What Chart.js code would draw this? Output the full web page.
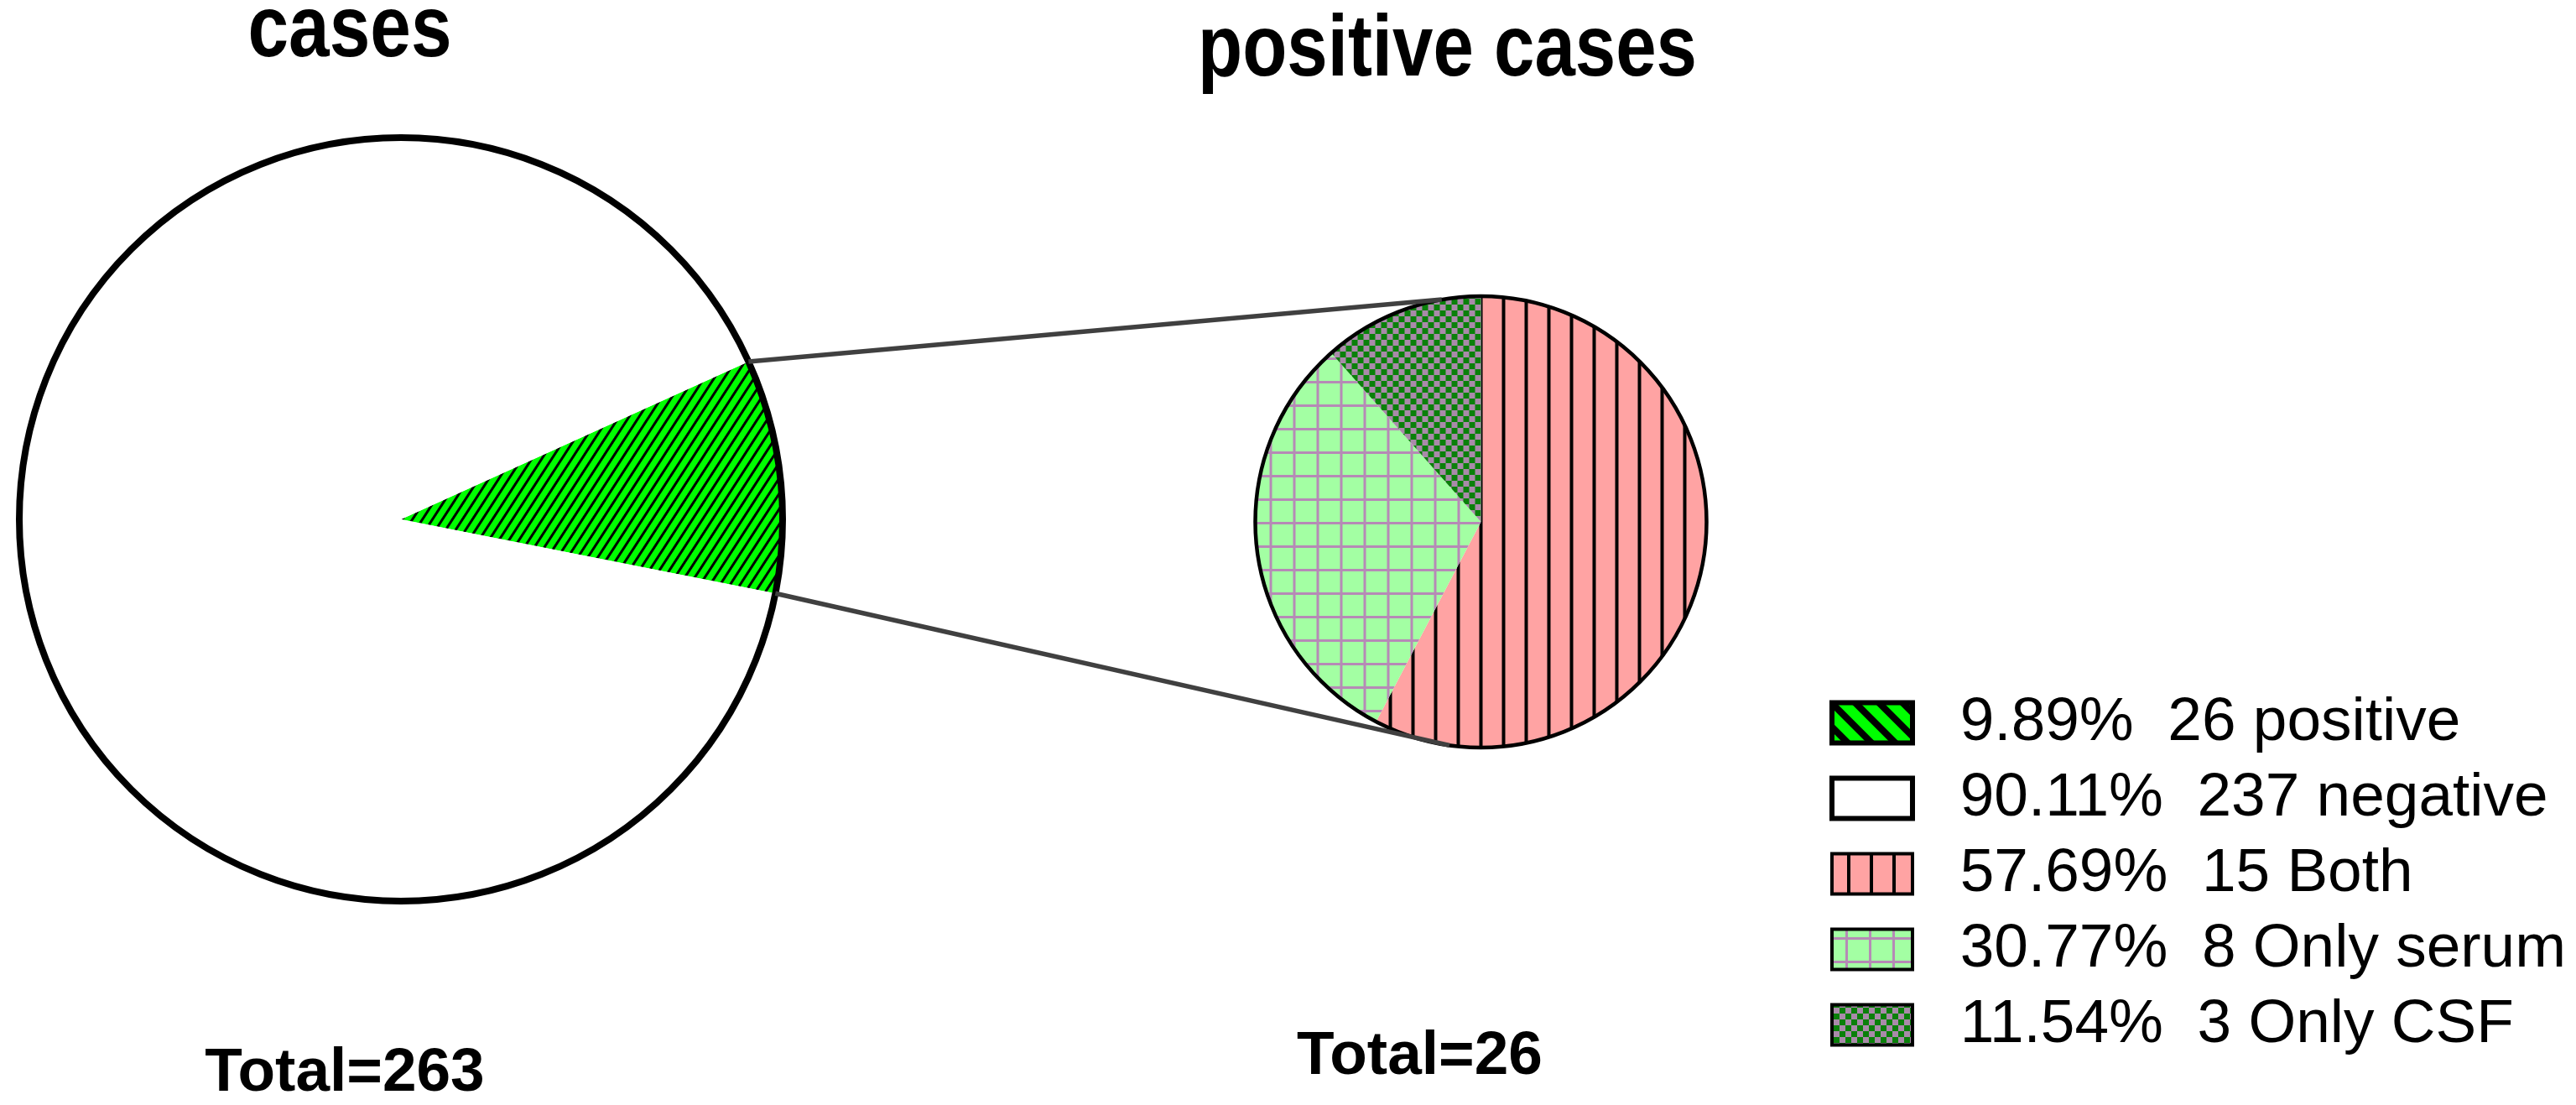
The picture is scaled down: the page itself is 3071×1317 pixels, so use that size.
<!DOCTYPE html>
<html lang="en">
<head>
<meta charset="UTF-8">
<title>Positive cases pie of pie</title>
<script src="https://cdn.jsdelivr.net/npm/chart.js"></script>
<style>
  html, body { margin: 0; padding: 0; background: #ffffff; overflow: hidden; width: 3071px; height: 1317px; }
  canvas { position: absolute; }
  #totalChart { left: 0; top: 0; }
  #positiveChart { left: 800px; top: -31px; }
</style>
</head>
<body>
<canvas id="totalChart" width="956" height="1317"></canvas>
<canvas id="positiveChart" width="2260" height="1348"></canvas>
<script>
// all tested cases
const totalLabels = ['positive', 'negative'];
const totalCounts = [26, 237];
// split of the positive cases
const positiveLabels = ['Both', 'Only serum', 'Only CSF'];
const positiveCounts = [15, 8, 3];
const pieTitles = ['cases', 'positive cases'];

const sum = arr => arr.reduce((a, b) => a + b, 0);
const legendText = (n, arr, name) => ' ' + (n / sum(arr) * 100).toFixed(2) + '%  ' + n + ' ' + name;

// fill patterns
function makePattern(w, h, paint) {
    const c = document.createElement('canvas');
    c.width = w;
    c.height = h;
    const g = c.getContext('2d');
    paint(g, w, h);
    return g.createPattern(c, 'repeat');
}

const stripeSlice = makePattern(10, 10, (g, w, h) => {
    g.fillStyle = '#00ff00'; g.fillRect(0, 0, w, h);
    g.fillStyle = '#000000'; g.fillRect(0, 0, 3, h);
});
stripeSlice._rot = 33;

const stripeKey = makePattern(20, 20, (g, w, h) => {
    g.fillStyle = '#00ff00'; g.fillRect(0, 0, w, h);
    g.fillStyle = '#000000'; g.fillRect(0, 0, 8, h);
});
stripeKey.setTransform(new DOMMatrix().rotate(-45));

const bothPat = makePattern(27, 27, (g, w, h) => {
    g.fillStyle = '#ffa3a3'; g.fillRect(0, 0, w, h);
    g.fillStyle = '#000000'; g.fillRect(0, 0, 2, h); g.fillRect(w - 2, 0, 2, h);
});

const serumPat = makePattern(28, 28, (g, w, h) => {
    g.fillStyle = '#a3ffa3'; g.fillRect(0, 0, w, h);
    g.fillStyle = '#b68ab6'; g.fillRect(0, 0, 3, h); g.fillRect(0, 0, w, 3);
});

const csfPat = makePattern(14, 14, (g, w, h) => {
    g.fillStyle = '#0a800a'; g.fillRect(0, 0, w, h);
    g.fillStyle = '#a98aa9'; g.fillRect(0, 0, 7, 7); g.fillRect(7, 7, 7, 7);
});

// keep the slice patterns anchored on the pie centre
const anchorPatterns = {
    id: 'anchorPatterns',
    beforeDatasetsDraw(chart) {
        const arc = chart.getDatasetMeta(0).data[0];
        chart.data.datasets[0].backgroundColor.forEach(p => {
            if (p instanceof CanvasPattern) {
                p.setTransform(new DOMMatrix().translate(arc.x, arc.y).rotate(p._rot || 0));
            }
        });
    }
};

// black circle around a pie
const outline = {
    id: 'outline',
    afterDatasetsDraw(chart, args, opts) {
        const arc = chart.getDatasetMeta(0).data[0];
        const ctx = chart.ctx;
        ctx.save();
        ctx.lineWidth = opts.width;
        ctx.strokeStyle = opts.color;
        ctx.beginPath();
        ctx.arc(arc.x, arc.y, arc.outerRadius, 0, Math.PI * 2);
        ctx.stroke();
        ctx.restore();
    }
};

// heading above and total below each pie
const captions = {
    id: 'captions',
    afterDraw(chart, args, opts) {
        const arc = chart.getDatasetMeta(0).data[0];
        const ctx = chart.ctx;
        ctx.save();
        ctx.fillStyle = '#000000';
        ctx.textAlign = 'center';
        ctx.textBaseline = 'alphabetic';
        opts.items.forEach(it => {
            ctx.font = it.font;
            if (it.maxWidth) {
                ctx.fillText(it.text, arc.x + it.dx, arc.y + it.dy, it.maxWidth);
            } else {
                ctx.fillText(it.text, arc.x + it.dx, arc.y + it.dy);
            }
        });
        ctx.restore();
    }
};

const titleFont = 'bold 104px "Liberation Sans", Arial, sans-serif';
const totalFont = 'bold 73px "Liberation Sans", Arial, sans-serif';

const totalChart = new Chart(document.getElementById('totalChart'), {
    type: 'pie',
    data: {
        labels: totalLabels,
        datasets: [{
            data: totalCounts,
            backgroundColor: [stripeSlice, '#ffffff'],
            borderWidth: 0,
            rotation: 65.6,
            radius: 455
        }]
    },
    options: {
        responsive: false,
        animation: false,
        events: [],
        layout: { padding: { bottom: 79 } },
        plugins: {
            legend: { display: false },
            tooltip: { enabled: false },
            outline: { width: 8, color: '#000000' },
            captions: {
                items: [
                    { text: pieTitles[0], font: titleFont, dx: -61, dy: -552, maxWidth: 243 },
                    { text: 'Total=' + sum(totalCounts), font: totalFont, dx: -67, dy: 681 }
                ]
            }
        }
    },
    plugins: [anchorPatterns, outline, captions]
});

// lines joining the positive slice to the second pie
const connector = {
    id: 'connector',
    afterDatasetsDraw(chart) {
        const a = totalChart.getDatasetMeta(0).data[0];
        const b = chart.getDatasetMeta(0).data[0];
        const r1 = totalChart.canvas.getBoundingClientRect();
        const r2 = chart.canvas.getBoundingClientRect();
        const ox = r1.left - r2.left, oy = r1.top - r2.top;
        const pt = (arc, ang, dx, dy) => [dx + arc.x + arc.outerRadius * Math.cos(ang), dy + arc.y + arc.outerRadius * Math.sin(ang)];
        const ends = [
            [pt(a, a.startAngle, ox, oy), pt(b, -100 * Math.PI / 180, 0, 0)],
            [pt(a, a.endAngle, ox, oy), pt(b, 98 * Math.PI / 180, 0, 0)]
        ];
        const ctx = chart.ctx;
        ctx.save();
        ctx.strokeStyle = '#404040';
        ctx.lineWidth = 5.5;
        ends.forEach(([p, q]) => {
            ctx.beginPath();
            ctx.moveTo(p[0], p[1]);
            ctx.lineTo(q[0], q[1]);
            ctx.stroke();
        });
        ctx.restore();
    }
};

const totalKeyFills = [stripeKey, '#ffffff'];
const positiveKeyFills = [bothPat, serumPat, csfPat];

// legend entries for both pies, shown in one list
const keyFont = { family: '"Liberation Sans", Arial, sans-serif', size: 73 };
const keyItems = [
    ...totalCounts.map((n, i) => ({
        text: legendText(n, totalCounts, totalLabels[i]),
        fillStyle: totalKeyFills[i],
        strokeStyle: '#000000',
        lineWidth: 6,
        hidden: false,
        index: i
    })),
    ...positiveCounts.map((n, i) => ({
        text: legendText(n, positiveCounts, positiveLabels[i]),
        fillStyle: positiveKeyFills[i],
        strokeStyle: '#000000',
        lineWidth: 4,
        hidden: false,
        index: i
    }))
];

// size the second canvas so the legend fits right of the pie
const keyPad = 17, keyBoxW = 96;
const mctx = document.createElement('canvas').getContext('2d');
mctx.font = keyFont.size + 'px ' + keyFont.family;
const keyTextW = Math.max(...keyItems.map(k => mctx.measureText(k.text).width));
const legendW = keyPad + keyBoxW + keyFont.size / 2 + keyTextW + 10;
const posCanvas = document.getElementById('positiveChart');
posCanvas.width = Math.ceil(564 + 802 + legendW);

new Chart(posCanvas, {
    type: 'pie',
    data: {
        labels: positiveLabels,
        datasets: [{
            data: positiveCounts,
            backgroundColor: [bothPat, serumPat, csfPat],
            borderWidth: 0,
            rotation: 0,
            radius: 269
        }]
    },
    options: {
        responsive: false,
        animation: false,
        events: [],
        layout: { padding: { left: 564, right: 0, top: 0, bottom: 42 } },
        plugins: {
            tooltip: { enabled: false },
            legend: {
                position: 'right',
                align: 'end',
                maxWidth: legendW + 40,
                labels: {
                    color: '#000000',
                    font: keyFont,
                    boxWidth: keyBoxW,
                    boxHeight: 48,
                    padding: keyPad,
                    generateLabels: () => keyItems
                }
            },
            outline: { width: 4.5, color: '#000000' },
            captions: {
                items: [
                    { text: pieTitles[1], font: titleFont, dx: -40, dy: -532, maxWidth: 595 },
                    { text: 'Total=' + sum(positiveCounts), font: totalFont, dx: -73, dy: 658 }
                ]
            }
        }
    },
    plugins: [anchorPatterns, outline, connector, captions]
});
</script>
</body>
</html>
